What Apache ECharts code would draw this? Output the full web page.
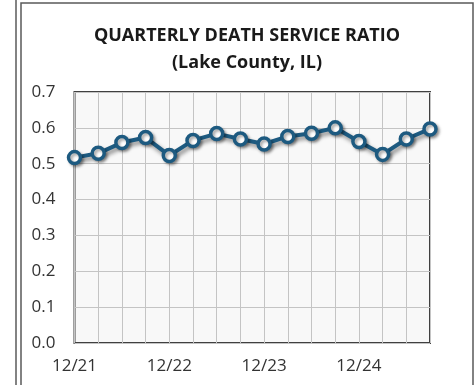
<!DOCTYPE html>
<html>
<head>
<meta charset="utf-8">
<script src="https://cdn.jsdelivr.net/npm/echarts@6/dist/echarts.min.js"></script>
<style>
  html, body { margin: 0; padding: 0; background: #ffffff; }
  #chart { width: 475px; height: 385px; }
</style>
</head>
<body>
<div id="chart"></div>
<script>
// Quarter-end months, December 2021 through September 2025
var quarters = ['12/21', '3/22', '6/22', '9/22', '12/22', '3/23', '6/23', '9/23',
                '12/23', '3/24', '6/24', '9/24', '12/24', '3/25', '6/25', '9/25'];
// Death service ratio per quarter
var ratios = [0.517, 0.529, 0.559, 0.573, 0.523, 0.565, 0.584, 0.569,
              0.555, 0.576, 0.585, 0.600, 0.562, 0.526, 0.569, 0.597];
var yTicks = [0.0, 0.1, 0.2, 0.3, 0.4, 0.5, 0.6, 0.7];

var chart = echarts.init(document.getElementById('chart'), null, { renderer: 'canvas' });
var txt = '#333333';
var font = '"Open Sans", "Liberation Sans", sans-serif';

chart.setOption({
  animation: false,
  backgroundColor: '#ffffff',
  title: {
    text: 'QUARTERLY DEATH SERVICE RATIO\n(Lake County, IL)',
    left: 242,
    textAlign: 'center',
    top: 17,
    textStyle: { fontFamily: font, fontWeight: 'bold', fontSize: 18, color: '#1a1a1a', lineHeight: 27 }
  },
  graphic: [
    { type: 'line', shape: { x1: 16, y1: 0, x2: 16, y2: 385 }, style: { stroke: '#5a5a5a', lineWidth: 1.5 } },
    { type: 'rect', shape: { x: 21, y: 3, width: 452, height: 400 }, style: { fill: 'none', stroke: '#5a5a5a', lineWidth: 1.5 } }
  ],
  grid: {
    left: 74.5, right: 45, top: 92, bottom: 42,
    show: true, backgroundColor: '#f8f8f8', borderColor: '#404040', borderWidth: 2
  },
  xAxis: {
    type: 'category',
    data: quarters,
    boundaryGap: false,
    axisLine: { show: false },
    axisTick: { show: false },
    axisLabel: { interval: 3, color: txt, fontFamily: font, fontSize: 17, margin: 15 },
    splitLine: { show: true, interval: 0, lineStyle: { color: '#c4c4c4', width: 1 } }
  },
  yAxis: {
    type: 'value',
    min: yTicks[0],
    max: yTicks[yTicks.length - 1],
    interval: 0.1,
    axisLine: { show: false },
    axisTick: { show: false },
    axisLabel: {
      color: txt, fontFamily: font, fontSize: 17, margin: 19,
      formatter: function (v) { return v.toFixed(1); }
    },
    splitLine: { show: true, lineStyle: { color: '#c4c4c4', width: 1 } }
  },
  series: [{
    type: 'line',
    data: ratios,
    symbol: 'circle',
    symbolSize: 12,
    lineStyle: {
      color: '#1d5a80', width: 4,
      shadowColor: 'rgba(0,0,0,0.45)', shadowBlur: 4, shadowOffsetX: 2, shadowOffsetY: 3
    },
    itemStyle: {
      color: '#ffffff', borderColor: '#1d5a80', borderWidth: 3.5,
      shadowColor: 'rgba(0,0,0,0.35)', shadowBlur: 3, shadowOffsetX: 2, shadowOffsetY: 2
    },
    z: 3
  }]
});
</script>
</body>
</html>
